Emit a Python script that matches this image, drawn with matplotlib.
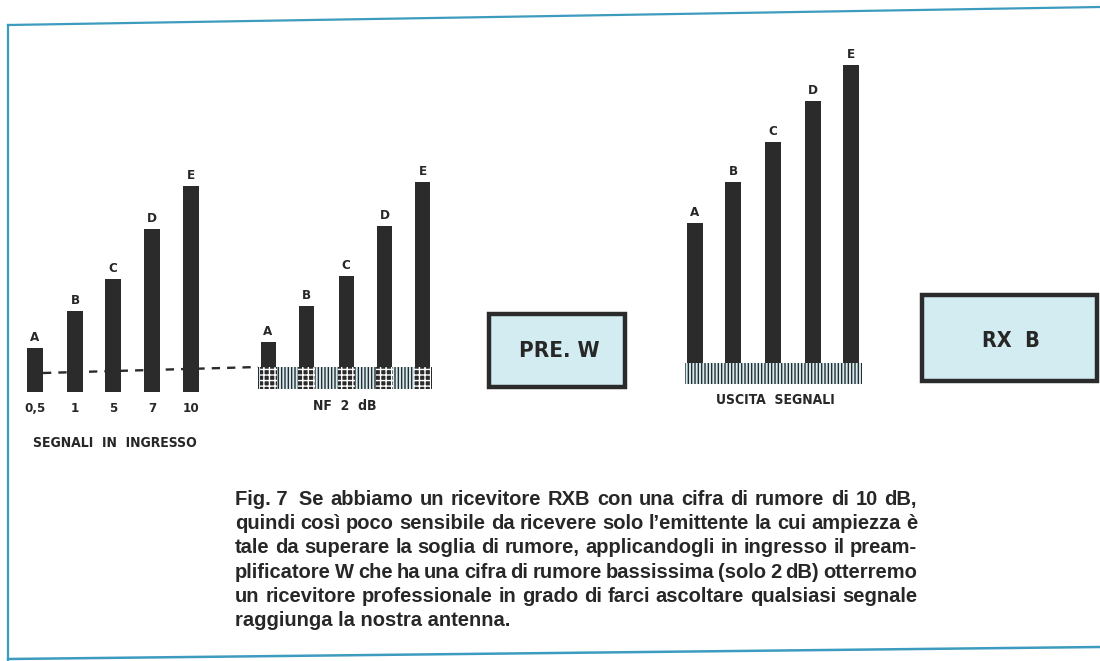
import matplotlib
matplotlib.use("Agg")
import matplotlib.pyplot as plt
from matplotlib.patches import Rectangle

# valori delle barre (altezza in pixel della tavola)
lettere = ["A", "B", "C", "D", "E"]
segnali_ingresso = ["0,5", "1", "5", "7", "10"]
alt_ingresso = [44, 81, 113, 163, 206]
alt_pre = [47, 83, 113, 163, 207]
alt_uscita = [140, 181, 221, 262, 298]

didascalia = [
    "Fig. 7  Se abbiamo un ricevitore RXB con una cifra di rumore di 10 dB,",
    "quindi così poco sensibile da ricevere solo l\u2019emittente la cui ampiezza è",
    "tale da superare la soglia di rumore, applicandogli in ingresso il pream-",
    "plificatore W che ha una cifra di rumore bassissima (solo 2 dB) otterremo",
    "un ricevitore professionale in grado di farci ascoltare qualsiasi segnale",
    "raggiunga la nostra antenna.",
]

W, H = 1100, 661
NERO = "#2b2b2b"
TESTO = "#272727"
CELESTE = "#d3ecf2"
BLU = "#3d9bbf"
CAPT = ["Liberation Sans", "DejaVu Sans"]
stile = dict(fontweight="bold", family="DejaVu Sans", fontstretch="condensed",
             color=TESTO)

plt.rcParams["hatch.linewidth"] = 1.0

fig = plt.figure(figsize=(11, 6.61), dpi=100)
ax = fig.add_axes([0, 0, 1, 1])
ax.set_xlim(0, W)
ax.set_ylim(0, H)
ax.axis("off")


def Y(y):
    # da coordinate pixel (origine in alto) a coordinate asse
    return H - y


# cornice azzurra
ax.plot([8, 1100], [Y(25), Y(7)], color=BLU, lw=1.6)
ax.plot([8, 8], [Y(25), Y(661)], color=BLU, lw=1.6)
ax.plot([8, 1100], [Y(659), Y(647)], color=BLU, lw=1.8)


def barre(xc, alt, base, larg, lab_off=4):
    ax.bar(xc, alt, width=larg, bottom=base, color=NERO, zorder=3)
    for x, h, l in zip(xc, alt, lettere):
        ax.text(x, base + h + lab_off, l, ha="center", va="bottom",
                fontsize=9.5, **stile)


# --- segnali in ingresso ---
x1 = [35, 75, 113, 152, 191]
base1 = Y(392)
ax.plot([43, 258], [Y(373), Y(367)], color=NERO, lw=1.7,
        ls=(0, (3.5, 3)), zorder=2)
barre(x1, alt_ingresso, base1, 16)
for x, s in zip(x1, segnali_ingresso):
    ax.text(x, Y(408), s, ha="center", va="center", fontsize=9.5, **stile)
ax.text(33, Y(443), "SEGNALI  IN  INGRESSO", ha="left", va="center",
        fontsize=10, **stile)

# --- dopo il preamplificatore (NF 2 dB) ---
x2 = [268, 306.5, 346, 384.5, 422.5]
base2 = Y(389)
ax.add_patch(Rectangle((258, base2), 174, 22, facecolor=CELESTE,
                       edgecolor=NERO, hatch="|||||", lw=0, zorder=2))
barre(x2, alt_pre, base2, 15)
for x in x2:
    ax.add_patch(Rectangle((x - 8.5, base2), 17, 22, facecolor=NERO,
                           edgecolor="white", hatch="+++", lw=0, zorder=4))
ax.text(345, Y(406), "NF  2  dB", ha="center", va="center", fontsize=10,
        **stile)

# --- uscita ---
x3 = [694.5, 733, 773, 813, 851]
base3 = Y(363)
ax.add_patch(Rectangle((685, Y(384)), 177, 21, facecolor=CELESTE,
                       edgecolor=NERO, hatch="|||||", lw=0, zorder=2))
barre(x3, alt_uscita, base3, 16)
ax.text(775, Y(400), "USCITA  SEGNALI", ha="center", va="center",
        fontsize=10, **stile)

# --- blocchi ---
ax.add_patch(Rectangle((489, Y(387)), 136, 73, facecolor=CELESTE,
                       edgecolor=NERO, lw=3.2, zorder=3))
ax.text(559, Y(351), "PRE. W", ha="center", va="center", fontsize=16,
        zorder=4, **stile)
ax.add_patch(Rectangle((922, Y(381)), 175, 86, facecolor=CELESTE,
                       edgecolor=NERO, lw=3.2, zorder=3))
ax.text(1011, Y(341), "RX  B", ha="center", va="center", fontsize=15.5,
        zorder=4, **stile)

# --- didascalia, giustificata tra x_sx e x_dx ---
x_sx, x_dx = 235, 917
cap = dict(va="baseline", fontsize=14.5, fontweight="bold", family=CAPT,
           color=TESTO)
rend = fig.canvas.get_renderer()
for i, riga in enumerate(didascalia):
    y = Y(505 + 24.2 * i)
    if i == len(didascalia) - 1:
        ax.text(x_sx, y, riga, ha="left", **cap)
        continue
    parole = riga.replace("Fig. 7  ", "Fig.\u00a07\u00a0\u00a0").split(" ")
    testi = [ax.text(0, y, p, ha="left", **cap) for p in parole]
    larg = [t.get_window_extent(rend).width for t in testi]
    spazio = (x_dx - x_sx - sum(larg)) / (len(testi) - 1)
    x = x_sx
    for t, w in zip(testi, larg):
        t.set_x(x)
        x += w + spazio

fig.savefig("out.png", dpi=100, facecolor="white")
